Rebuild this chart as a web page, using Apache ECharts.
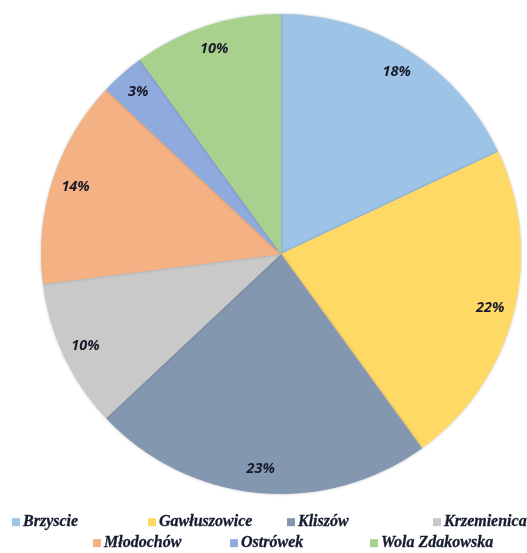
<!DOCTYPE html>
<html>
<head>
<meta charset="utf-8">
<script src="https://cdn.jsdelivr.net/npm/echarts@6/dist/echarts.min.js"></script>
<style>html,body{margin:0;padding:0;background:#fff}#c{width:527px;height:553px}</style>
</head>
<body>
<div id="c"></div>
<script>
const categories = ['Brzyscie', 'Gawłuszowice', 'Kliszów', 'Krzemienica', 'Młodochów', 'Ostrówek', 'Wola Zdakowska'];
const values = [18, 22, 23, 10, 14, 3, 10];
const colors = ['#9DC3E6', '#FFD966', '#8497B0', '#C9C9C9', '#F4B183', '#8FAADC', '#A9D18E'];
// legend item placement (left, top) – layout only
const legendPos = [[12, 514], [148, 514], [287, 514], [433, 514], [93, 535], [230, 535], [370, 535]];

const chart = echarts.init(document.getElementById('c'));
const data = categories.map((n, i) => ({ name: n, value: values[i], itemStyle: { color: colors[i] } }));
const center = [281, 254];
const option = {
  animation: false,
  legend: categories.map((n, i) => ({
    data: [n],
    left: legendPos[i][0],
    top: legendPos[i][1],
    padding: 0,
    itemWidth: 8,
    itemHeight: 8,
    itemGap: 0,
    icon: 'rect',
    selectedMode: false,
    textStyle: { fontFamily: 'Liberation Serif', fontStyle: 'italic', fontWeight: 'bold', fontSize: 16, color: '#141c2e', textBorderColor: '#141c2e', textBorderWidth: 0.3, padding: [0, 0, 0, -2] }
  })),
  series: [
    {
      type: 'pie',
      center: center,
      radius: 240,
      startAngle: 90,
      clockwise: true,
      label: { show: false },
      labelLine: { show: false },
      itemStyle: { borderWidth: 0, shadowBlur: 3, shadowColor: 'rgba(0,0,0,0.25)' },
      emphasis: { disabled: true },
      data: data
    },
    {
      type: 'pie',
      center: center,
      radius: [186, 240],
      startAngle: 90,
      clockwise: true,
      silent: true,
      legendHoverLink: false,
      z: 3,
      itemStyle: { color: 'transparent', borderWidth: 0 },
      label: {
        show: true,
        position: 'inside',
        formatter: p => p.value + '%',
        fontFamily: 'Open Sans',
        fontStyle: 'italic',
        fontWeight: 'bold',
        fontSize: 14.5,
        color: '#1a1a2a'
      },
      labelLine: { show: false },
      emphasis: { disabled: true },
      data: categories.map((n, i) => ({ name: n + ' ', value: values[i] }))
    }
  ]
};
chart.setOption(option);
</script>
</body>
</html>
